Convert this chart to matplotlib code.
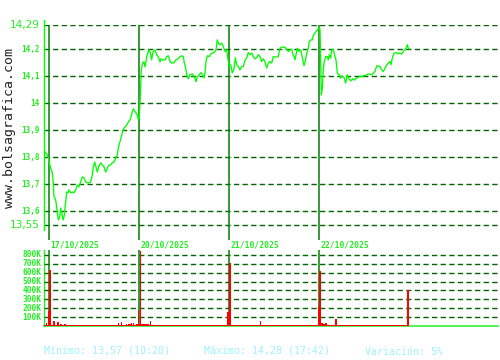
import matplotlib.pyplot as plt

# eje x: numero de barra (aprox. 6 min cada una), 90 barras por sesion
slot = [
    1.3, 3.3, 4.3, 5.3, 6.7, 8.3, 9.3, 10, 11, 12,
    13.3, 14.3, 15.7, 16.7, 17.7, 18.7, 19.3, 20.3, 21, 22,
    22.7, 24, 25, 26.7, 28.3, 30, 31.7, 33.3, 35, 36.7,
    38.3, 40, 41.7, 43.3, 45, 46.7, 48.3, 49.3, 50.7, 52,
    53.3, 54.7, 56.7, 58.3, 60, 61.7, 63.3, 65, 66.7, 68.3,
    70, 71.7, 73.3, 74.3, 75.7, 77, 78.3, 80, 81.3, 83.3,
    84.3, 86, 87, 88.3, 89.3, 90.7, 92, 93.3, 94.3, 95.3,
    # 20/10
    96.3, 97.3, 98.7, 100, 101, 102, 102.7, 104.3, 105.3, 106.7,
    107.7, 108.7, 110, 111, 112.7, 114.3, 116, 117, 118.3, 121,
    122.7, 124.3, 126, 127.7, 130, 132, 134.3, 136, 137.7, 139.3,
    140.3, 141.7, 142.7, 144.3, 146, 148.7, 150, 151.7, 152, 153.3,
    155.3, 157, 158.7, 160, 161, 162, 163.3, 165.3, 166.7, 168.3,
    170, 172, 173.3, 174.3, 176, 177.7, 179.3, 181, 182.7, 183.7,
    # 21/10
    185.3, 186.7, 188.3, 190, 191.3, 192.7, 194.3, 196, 197.7, 199.3,
    201, 202.7, 204.3, 206, 207.7, 209.3, 211, 212.7, 214.3, 216,
    217.7, 219.3, 221, 222.7, 224.3, 226, 227.7, 229.3, 231, 234.3,
    236, 237.7, 241, 242.7, 244.3, 246, 247.7, 248.7, 250, 251,
    252, 253.3, 255, 256.7, 257.7, 258.7, 260, 261.3, 262.7, 264.3,
    265.3, 267, 268.3, 269.3, 271, 272.7, 274.3, 275.3,
    # 22/10
    276, 276.7, 277.3, 278.3, 279.3, 280.3, 281.7, 283.3, 284.3, 285.3,
    286.7, 287.7, 289.3, 290.3, 292, 293.3, 295.3, 296.7, 298.3, 300,
    301.7, 303.3, 305, 306.7, 308.7, 310.3, 312, 314.3, 316, 317.7,
    319.3, 321, 324.3, 327.7, 331, 332.7, 336, 337.7, 339.3, 341,
    342.7, 344.3, 346, 347, 348.3, 350, 352, 353.7, 355.3, 357.7,
    359.3, 361, 362, 363.3, 364.3, 365.3,
]
precio = [
    13.820, 13.809, 13.798, 13.780, 13.761, 13.743, 13.706, 13.654, 13.650, 13.635,
    13.598, 13.569, 13.580, 13.613, 13.594, 13.576, 13.569, 13.587, 13.613, 13.654,
    13.672, 13.669, 13.680, 13.669, 13.672, 13.669, 13.680, 13.698, 13.691, 13.709,
    13.728, 13.724, 13.709, 13.706, 13.706, 13.709, 13.735, 13.765, 13.783, 13.765,
    13.746, 13.765, 13.780, 13.772, 13.765, 13.746, 13.761, 13.772, 13.772, 13.780,
    13.783, 13.798, 13.809, 13.835, 13.854, 13.872, 13.891, 13.909, 13.913, 13.924,
    13.931, 13.939, 13.950, 13.969, 13.980, 13.972, 13.965, 13.957, 13.939, 13.946,
    14.025, 14.124, 14.150, 14.154, 14.135, 14.154, 14.173, 14.192, 14.198, 14.180,
    14.161, 14.187, 14.196, 14.198, 14.180, 14.173, 14.153, 14.165, 14.161, 14.161,
    14.173, 14.176, 14.155, 14.149, 14.150, 14.161, 14.165, 14.173, 14.176, 14.173,
    14.150, 14.131, 14.106, 14.091, 14.106, 14.109, 14.099, 14.087, 14.081, 14.098,
    14.106, 14.114, 14.106, 14.094, 14.113, 14.155, 14.176, 14.173, 14.183, 14.186,
    14.188, 14.198, 14.235, 14.223, 14.217, 14.223, 14.210, 14.192, 14.198, 14.169,
    14.136, 14.143, 14.113, 14.128, 14.169, 14.143, 14.136, 14.124, 14.136, 14.136,
    14.159, 14.169, 14.188, 14.180, 14.186, 14.173, 14.165, 14.169, 14.180, 14.173,
    14.155, 14.165, 14.153, 14.131, 14.149, 14.155, 14.149, 14.173, 14.171, 14.173,
    14.204, 14.208, 14.208, 14.200, 14.192, 14.198, 14.201, 14.182, 14.173, 14.161,
    14.180, 14.204, 14.192, 14.198, 14.180, 14.161, 14.140, 14.155, 14.186, 14.204,
    14.229, 14.235, 14.235, 14.251, 14.260, 14.269, 14.276, 14.281,
    14.272, 14.155, 14.031, 14.056, 14.124, 14.155, 14.173, 14.173, 14.161, 14.180,
    14.167, 14.198, 14.200, 14.182, 14.161, 14.112, 14.106, 14.093, 14.102, 14.096,
    14.075, 14.106, 14.091, 14.083, 14.091, 14.086, 14.093, 14.096, 14.102, 14.097,
    14.103, 14.102, 14.109, 14.106, 14.118, 14.139, 14.136, 14.124, 14.118, 14.130,
    14.143, 14.149, 14.155, 14.143, 14.167, 14.186, 14.188, 14.183, 14.186, 14.183,
    14.192, 14.198, 14.204, 14.217, 14.204, 14.201,
]

dias = ['17/10/2025', '20/10/2025', '21/10/2025', '22/10/2025']
inicio_dia = [5.3, 95.3, 185.3, 275.3]

# volumen destacado (barra, miles)
vol_slot = [2.7, 4.3, 6, 10, 14, 17, 21, 24, 74.3, 77.7, 82.7, 87.7, 89.3, 94.7, 96.3,
            98, 100, 102, 104, 106.7, 184, 186, 216.7, 274.7, 276, 278, 280, 282, 292, 364]
vol = [30, 170, 630, 55, 50, 25, 20, 12, 35, 40, 20, 30, 30, 180, 850,
       25, 25, 25, 25, 55, 160, 710, 55, 210, 620, 30, 25, 30, 80, 410]
# volumen de fondo, cada 4 barras
vol_fondo = [12, 15, 10, 14, 12, 9, 13, 11, 10, 12, 8, 14, 10, 12, 9, 11, 10, 13, 12, 15,
             14, 18, 16, 20, 15, 12, 10, 14, 9, 11, 12, 10, 13, 8, 11, 12, 10, 9, 14, 11,
             12, 10, 13, 11, 15, 12, 10, 14, 11, 9, 12, 10, 13, 11, 12, 14, 10, 9, 12, 11,
             13, 15, 12, 10, 14, 11, 12, 9, 10, 13, 11, 12, 10, 14, 12, 11, 9, 13, 10, 12,
             11, 14, 12, 10, 13, 11, 12, 15, 14, 16, 14]

y_ticks = [14.29, 14.2, 14.1, 14.0, 13.9, 13.8, 13.7, 13.6, 13.55]
y_labels = ['14,29', '14,2', '14,1', '14', '13,9', '13,8', '13,7', '13,6', '13,55']
v_ticks = [100, 200, 300, 400, 500, 600, 700, 800]
v_labels = ['100K', '200K', '300K', '400K', '500K', '600K', '700K', '800K']

VERDE = '#00ff00'
GRID = '#006400'
SEP = '#008000'
MONO = 'DejaVu Sans Mono'

fig = plt.figure(figsize=(5, 3.6), dpi=100)
fig.patch.set_facecolor('white')

# ---- precio ----
ax = fig.add_axes([44/500, 1-240/360, 454/500, 215/360])
ax.set_xlim(0, 454)
ax.set_ylim(13.55 - 15/270, 14.29)
ax.axis('off')
for v in y_ticks:
    ax.axhline(v, color=GRID, lw=1.0, dashes=(3.8, 2.4))
for s in inicio_dia:
    ax.axvline(s, color=SEP, lw=1.1)
ax.plot([0, 0], [10/215, 1+5/215], color=VERDE, lw=1.0, transform=ax.transAxes, clip_on=False)
ax.plot(slot, precio, color=VERDE, lw=0.95)

for v, l in zip(y_ticks, y_labels):
    if l in ('14,29', '13,55'):
        ax.text(-0.01, v, l, transform=ax.get_yaxis_transform(), ha='right', va='center',
                fontsize=7.5, color='#22ee22')
    else:
        ax.text(-0.01, v, l, transform=ax.get_yaxis_transform(), ha='right', va='center',
                fontsize=5.5, color='#22ee22', family=MONO, fontweight='bold')

for s, d in zip(inicio_dia, dias):
    ax.text(s + 1.4, -5/215, d, transform=ax.get_xaxis_transform(), ha='left', va='center',
            fontsize=5.8, color='#22ee22', family=MONO, fontweight='bold')

# ---- volumen ----
av = fig.add_axes([44/500, 1-326/360, 454/500, 76/360])
av.set_xlim(0, 454)
av.set_ylim(0, 856)
av.axis('off')
for v in v_ticks:
    av.axhline(v, color=GRID, lw=1.0, dashes=(3.8, 2.4))
for s in inicio_dia:
    av.axvline(s, color=SEP, lw=1.1)
av.plot([0, 1], [0, 0], color='#22ee22', lw=1.1, transform=av.transAxes, clip_on=False, zorder=1)
av.plot([0, 0], [0, 1], color='#22ee22', lw=1.0, transform=av.transAxes, clip_on=False, zorder=1)
fondo_x = [2 + 4*i for i in range(len(vol_fondo))]
av.bar(fondo_x, vol_fondo, width=4, color='red', linewidth=0, zorder=2)
av.bar(vol_slot, vol, width=1.3, color='red', linewidth=0, zorder=3)
for v, l in zip(v_ticks, v_labels):
    av.text(-0.005, v, l, transform=av.get_yaxis_transform(), ha='right', va='center',
            fontsize=5.7, color='#22ee22', family=MONO, fontweight='bold')

# ---- textos ----
fig.text(10/500, 1-128/360, 'www.bolsagrafica.com', rotation=90, ha='center', va='center',
         family=MONO, fontsize=9.5, color='#222222')
pie = '#a0f0ff'
fig.text(44/500, 1-352/360, 'Mínimo: 13,57 (10:20)', family=MONO, fontsize=7.2, color=pie, va='center')
fig.text(204/500, 1-352/360, 'Máximo: 14,28 (17:42)', family=MONO, fontsize=7.2, color=pie, va='center')
fig.text(365/500, 1-352/360, 'Variación: 5%', family=MONO, fontsize=7.2, color=pie, va='center')

fig.savefig('out.png', dpi=100)
